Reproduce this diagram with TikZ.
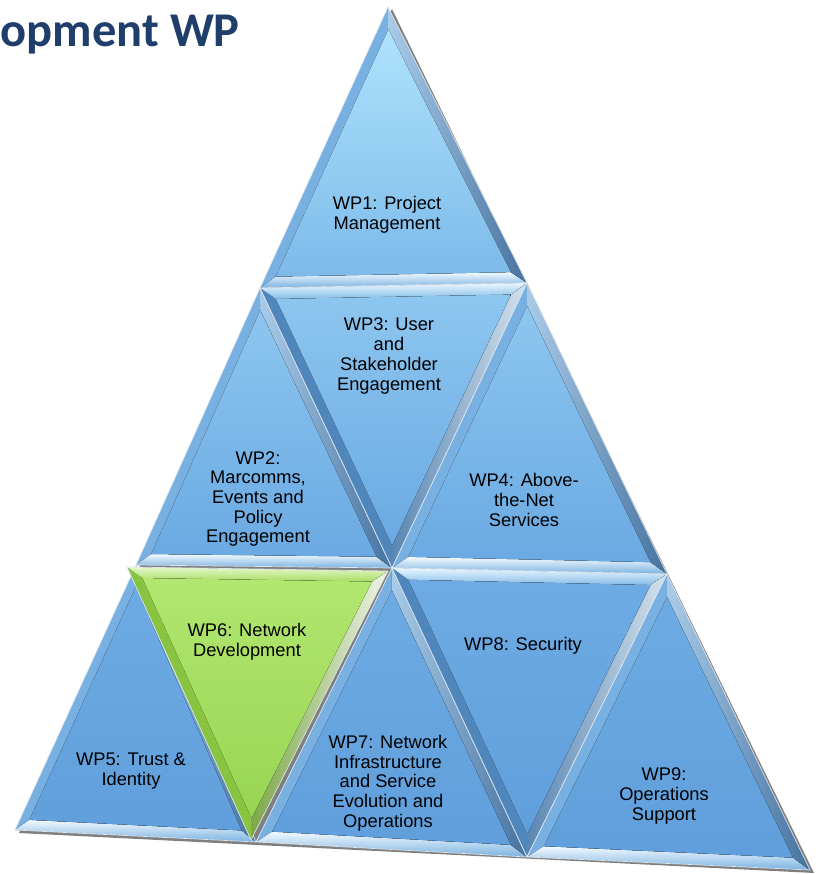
\documentclass[tikz,border=0pt]{standalone}
\usepackage{fontspec}
\setmainfont{Liberation Sans}
\newfontfamily\titlefont{Carlito}
\usetikzlibrary{calc}

\definecolor{titleblue}{HTML}{1F3E6C}
\definecolor{edgegray}{HTML}{DDE6EE}
\definecolor{shadeA}{HTML}{78B0E2}
\definecolor{shadeB}{HTML}{F2FAFF}
\definecolor{shadeC}{HTML}{7AB1E0}
\definecolor{shadeD}{HTML}{A9CBE8}
\definecolor{shadeE}{HTML}{46729F}
\definecolor{shadeF}{HTML}{E8F6FF}
\definecolor{shadeG}{HTML}{86BCE6}
\definecolor{shadeH}{HTML}{5B87B3}
\definecolor{shadeI}{HTML}{D3E1EC}
\definecolor{shadeJ}{HTML}{4F86BB}
% inner fills
\definecolor{toptop}{HTML}{AEE3FC}
\definecolor{topbot}{HTML}{7DBAEA}
\definecolor{midtop}{HTML}{8DC6EF}
\definecolor{midbot}{HTML}{6AA9E2}
\definecolor{lowtop}{HTML}{6EABE4}
\definecolor{lowbot}{HTML}{609FDC}
% green one
\definecolor{grnA}{HTML}{E6F8CC}
\definecolor{grnB}{HTML}{A6DC60}
\definecolor{grnC}{HTML}{7DA84A}
\definecolor{grnD}{HTML}{EEF4E6}
\definecolor{grnE}{HTML}{88C43F}
\definecolor{grntop}{HTML}{B2E670}
\definecolor{grnbot}{HTML}{98D552}

% one bevelled triangle: 3 corners, 3 edge strips, inner top/bottom colour
\newcommand{\bevtri}[8]{%
  \coordinate (cg) at ($1/3*(#1)+1/3*(#2)+1/3*(#3)$);
  \coordinate (ia) at ($(#1)!0.12!(cg)$);
  \coordinate (ib) at ($(#2)!0.12!(cg)$);
  \coordinate (ic) at ($(#3)!0.12!(cg)$);
  \fill[#4] (#1) -- (#2) -- (ib) -- (ia) -- cycle;
  \fill[#5] (#2) -- (#3) -- (ic) -- (ib) -- cycle;
  \fill[#6] (#3) -- (#1) -- (ia) -- (ic) -- cycle;
  \fill[top color=#7, bottom color=#8] (ia) -- (ib) -- (ic) -- cycle;
  \draw[edgeline] (#1) -- (#2) -- (#3) -- cycle;
}

\tikzset{
  wplabel/.style={align=center, inner sep=0pt, font=\fontsize{18.3}{19.7}\selectfont},
  edgeline/.style={draw=edgegray, line width=0.7pt, line join=round},
  upleft/.style={fill=shadeA},
  upbottom/.style={top color=shadeB, bottom color=shadeC},
  upright/.style={left color=shadeD, right color=shadeE},
  dntop/.style={top color=shadeF, bottom color=shadeG},
  dnright/.style={left color=shadeH, right color=shadeI},
  dnleft/.style={fill=shadeJ},
  gtop/.style={top color=grnA, bottom color=grnB},
  gright/.style={left color=grnC, right color=grnD},
  gleft/.style={fill=grnE},
}

\begin{document}
\begin{tikzpicture}[x=1pt,y=-1pt]
\useasboundingbox (0,0) rectangle (819,874);

% lattice corners
\coordinate (p00) at (388,7);
\coordinate (p10) at (260,288);
\coordinate (p11) at (527,283);
\coordinate (p20) at (136,565);
\coordinate (p21) at (392,568);
\coordinate (p22) at (667,574);
\coordinate (p30) at (15,830);
\coordinate (p31) at (256,842);
\coordinate (p32) at (527,857);
\coordinate (p33) at (810,870);
% green triangle sits a little proud
\coordinate (g1) at (127,567);
\coordinate (g2) at (388,571);
\coordinate (g3) at (251,840);

% shadow
\fill[black,opacity=0.5] ($(p00)+(4,2)$) -- ($(p30)+(4,3)$) -- ($(p33)+(4,3)$) -- cycle;

\bevtri{p00}{p10}{p11}{upleft}{upbottom}{upright}{toptop}{topbot}% WP1
\bevtri{p10}{p20}{p21}{upleft}{upbottom}{upright}{midtop}{midbot}% WP2
\bevtri{p10}{p11}{p21}{dntop}{dnright}{dnleft}{midtop}{midbot}% WP3
\bevtri{p11}{p21}{p22}{upleft}{upbottom}{upright}{midtop}{midbot}% WP4
\bevtri{p20}{p30}{p31}{upleft}{upbottom}{upright}{lowtop}{lowbot}% WP5
\bevtri{p21}{p31}{p32}{upleft}{upbottom}{upright}{lowtop}{lowbot}% WP7
\bevtri{p21}{p22}{p32}{dntop}{dnright}{dnleft}{lowtop}{lowbot}% WP8
\bevtri{p22}{p32}{p33}{upleft}{upbottom}{upright}{lowtop}{lowbot}% WP9
\bevtri{g1}{g2}{g3}{gtop}{gright}{gleft}{grntop}{grnbot}% WP6

\node[anchor=base east, inner sep=0pt, text=titleblue, font=\titlefont\bfseries\fontsize{48.5}{50}\selectfont] (title) at (240,47) {opment WP};

\node[wplabel] (wp1) at (387,215) {WP1: Project\\Management};
\node[wplabel] (wp3) at (389,356) {WP3: User\\and\\Stakeholder\\Engagement};
\node[wplabel] (wp2) at (258,499) {WP2:\\Marcomms,\\Events and\\Policy\\Engagement};
\node[wplabel] (wp4) at (524,500) {WP4: Above-\\the-Net\\Services};
\node[wplabel] (wp6) at (247,642) {WP6: Network\\Development};
\node[wplabel] (wp8) at (523,646) {WP8: Security};
\node[wplabel] (wp5) at (131,771) {WP5: Trust \&\\Identity};
\node[wplabel] (wp7) at (388,783) {WP7: Network\\Infrastructure\\and Service\\Evolution and\\Operations};
\node[wplabel] (wp9) at (664,796) {WP9:\\Operations\\Support};

\end{tikzpicture}
\end{document}
